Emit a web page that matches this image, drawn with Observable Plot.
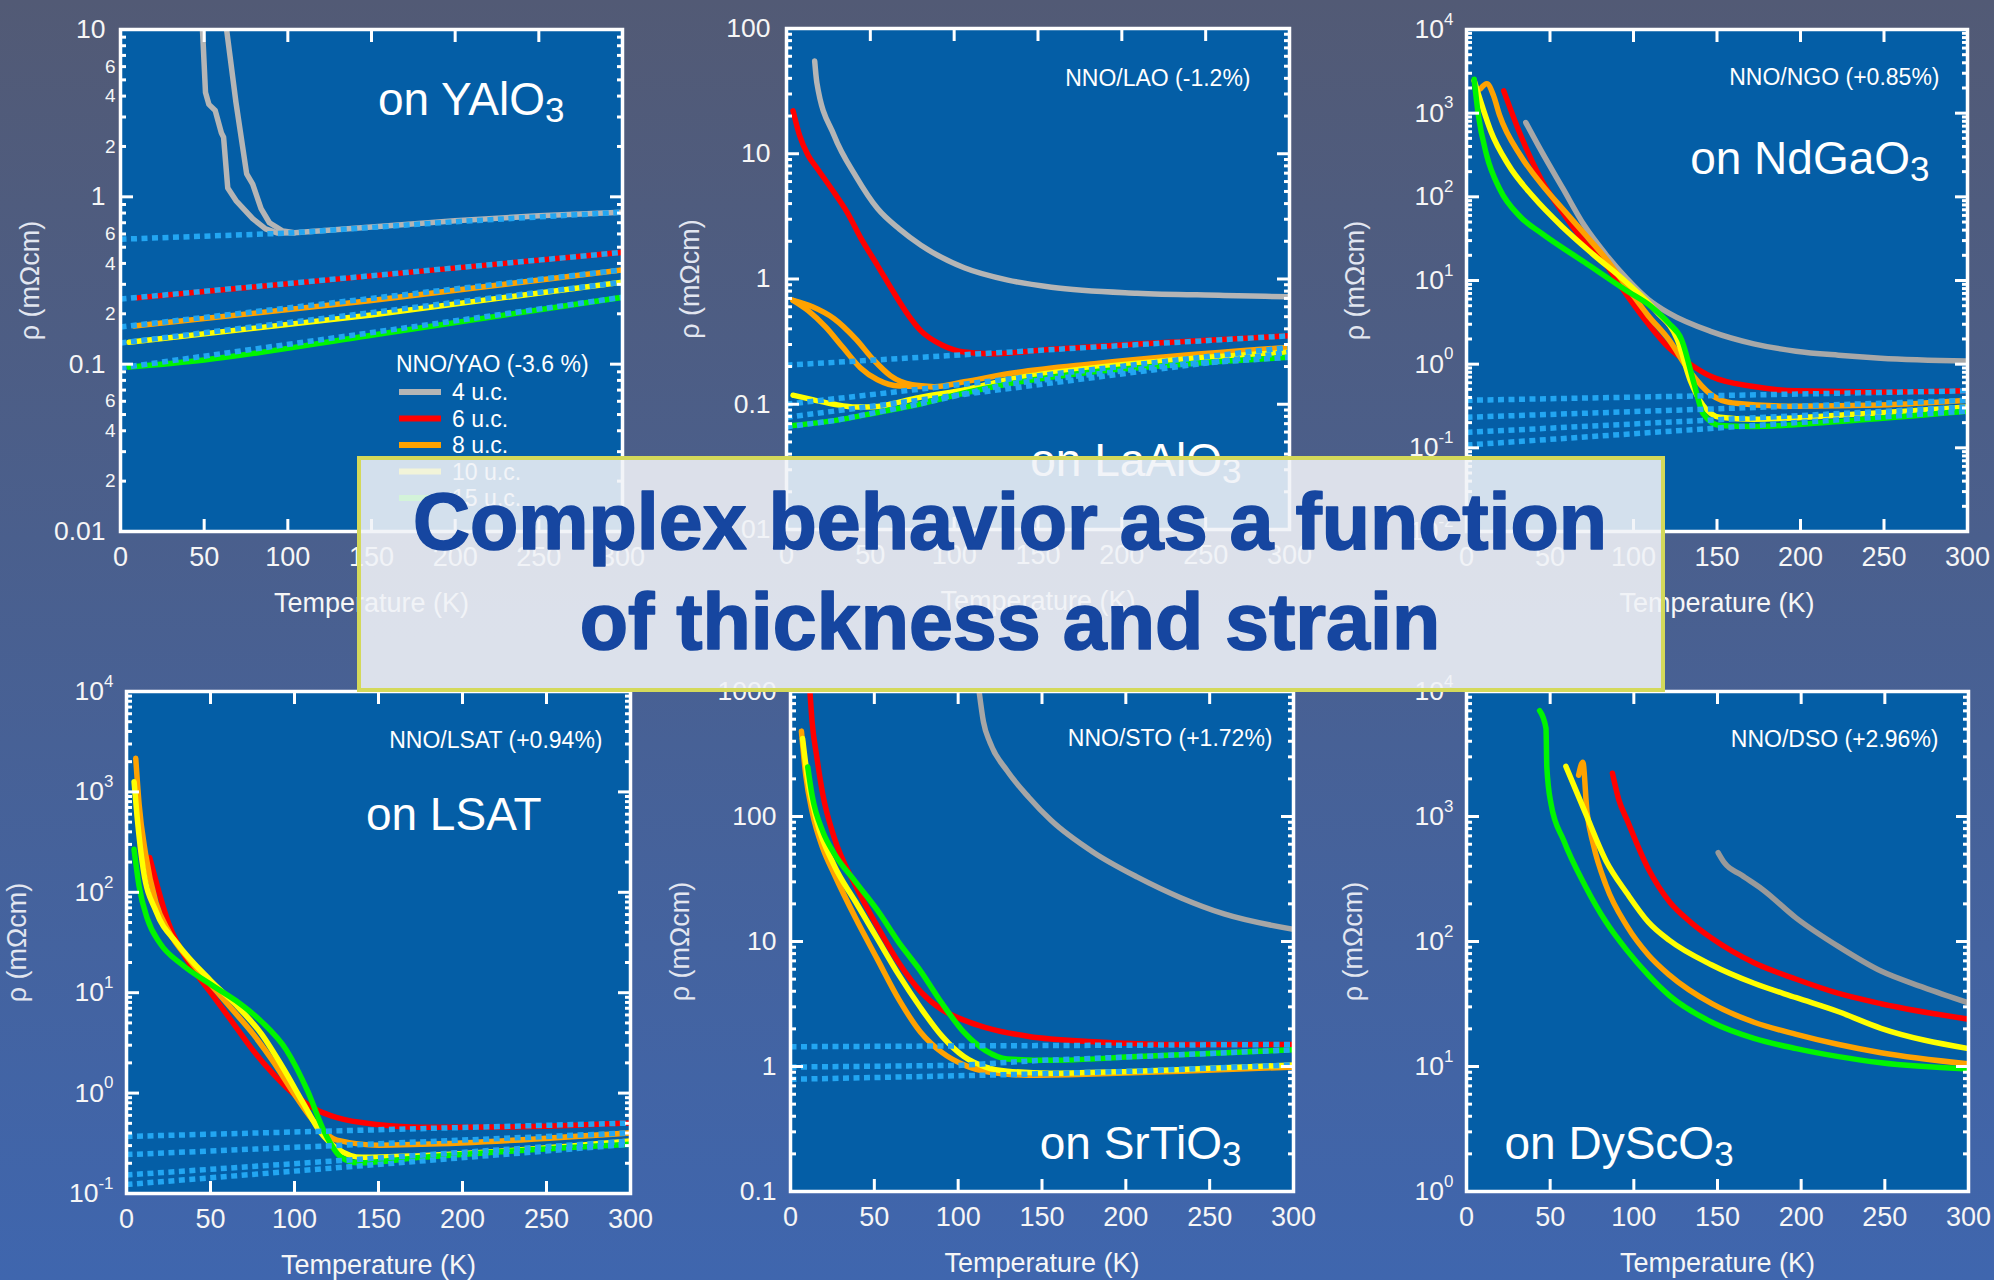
<!DOCTYPE html>
<html>
<head>
<meta charset="utf-8">
<script src="https://cdn.jsdelivr.net/npm/d3@7"></script>
<script src="https://cdn.jsdelivr.net/npm/@observablehq/plot@0.6"></script>
<style>
html, body { margin: 0; padding: 0; }
body {
  width: 1994px; height: 1280px; position: relative; overflow: hidden;
  background: linear-gradient(180deg, #525a75 0%, #3f66ae 100%);
  font-family: "Liberation Sans", Arial, Helvetica, sans-serif;
}
.panel { position: absolute; z-index: 1; }
#box {
  position: absolute; z-index: 2; left: 357px; top: 456px; width: 1308px; height: 236px;
  box-sizing: border-box; border: 4px solid #d4d95a; background: rgba(240, 243, 247, 0.88);
}
#title { position: absolute; z-index: 3; left: 0; top: 0; pointer-events: none; }
</style>
</head>
<body>
<div id="box"></div>
<svg id="title" width="1994" height="1280"></svg>
<script>
// ---------------- DATA ----------------
const thicknessLabels = ["4 u.c.", "6 u.c.", "8 u.c.", "10 u.c.", "15 u.c."];
const tempTicks = [0, 50, 100, 150, 200, 250, 300];
const tempMajorMarks = [50, 100, 150, 200, 250];
const minorMultipliers = [2, 3, 4, 5, 6, 7, 8, 9];
const yaoMinorLabelTicks = [0.02, 0.04, 0.06, 0.2, 0.4, 0.6, 2, 4, 6];
const titleLines = ["Complex behavior as a function", "of thickness and strain"];
const yLabel = "ρ (mΩcm)";
const xLabel = "Temperature (K)";

// Panel 1: on YAlO3  [T (K), rho (mOhm cm)]
const yao_4uc_a = [[49,10],[50.8,4.2],[52.8,3.57],[56.6,3.28],[60.3,2.41],[61.6,2.27],[64.1,1.13],[69,0.95],[79,0.74],[86.7,0.643],[94,0.607],[104,0.61],[150,0.66],[200,0.72],[250,0.77],[300,0.81]];
const yao_4uc_b = [[63.4,10],[69,3.67],[75.4,1.37],[79,1.19],[84,0.85],[89,0.70],[97,0.625],[104,0.61]];
const yao_6uc = [[10,0.249],[150,0.337],[300,0.466]];
const yao_8uc = [[8,0.169],[150,0.24],[300,0.366]];
const yao_10uc = [[5,0.135],[150,0.197],[300,0.309]];
const yao_15uc = [[5,0.096],[50,0.106],[150,0.149],[300,0.251]];
const yao_fit_4 = [[0,0.558],[100,0.607],[200,0.71],[300,0.81]];
const yao_fit_6 = [[0,0.245],[300,0.466]];
const yao_fit_8 = [[0,0.167],[300,0.366]];
const yao_fit_10 = [[0,0.134],[300,0.309]];
const yao_fit_15 = [[0,0.095],[300,0.251]];

// Panel 2: on LaAlO3
const lao_4uc = [[16.8,55],[18.1,37],[28.4,14],[41.4,6.6],[54.3,3.65],[67.2,2.51],[80.2,1.86],[106,1.23],[132,0.98],[158,0.86],[209,0.77],[261,0.74],[300,0.72]];
const lao_6uc = [[3.9,22],[7.8,14],[12.9,9.7],[18.1,7.7],[28.4,4.9],[36.2,3.4],[44,2.16],[54.3,1.28],[64.6,0.755],[72.4,0.52],[80.2,0.385],[93,0.296],[106,0.261],[121.5,0.253],[158,0.275],[209,0.303],[300,0.352]];
const lao_8uc_a = [[3.9,0.676],[15.5,0.60],[28.4,0.482],[41.4,0.331],[51.7,0.228],[62,0.169],[75,0.143],[88,0.138]];
const lao_8uc_b = [[3.9,0.676],[12.9,0.56],[23.3,0.415],[33.6,0.285],[44,0.196],[54.3,0.157],[67.2,0.14],[88,0.138],[106,0.151],[132,0.175],[183.6,0.211],[235,0.245],[300,0.285]];
const lao_10uc = [[3.9,0.118],[15.5,0.109],[28.4,0.100],[41.4,0.095],[54.3,0.096],[67.2,0.104],[80.2,0.114],[106,0.13],[132,0.157],[183.6,0.196],[235,0.228],[300,0.26]];
const lao_15uc = [[3.9,0.0676],[28.4,0.074],[54.3,0.086],[80.2,0.101],[106,0.123],[132,0.145],[183.6,0.182],[235,0.208],[300,0.237]];
const lao_fit_6 = [[0,0.205],[120,0.255],[300,0.352]];
const lao_fit_8 = [[0,0.10],[300,0.285]];
const lao_fit_10 = [[0,0.0787],[300,0.26]];
const lao_fit_15 = [[0,0.066],[28.4,0.074],[80.2,0.101],[132,0.145],[235,0.208],[300,0.237]];

// Panel 3: on NdGaO3
const ngo_4uc = [[35.5,773],[45.1,344],[57.8,125],[70.5,45.6],[83.2,20.8],[95.9,10.6],[108.6,6.0],[121.2,4.07],[146.6,2.45],[172,1.75],[197.3,1.43],[222.7,1.28],[248,1.18],[300,1.09]];
const ngo_6uc = [[22.3,1850],[32.5,540],[45.1,157],[57.8,64],[70.5,29],[83.2,15.7],[95.9,6.75],[108.6,3.08],[121.2,1.57],[134,1.0],[146.6,0.71],[172,0.54],[197.3,0.48],[248,0.466],[300,0.48]];
const ngo_8uc = [[8.4,1960],[12.2,2240],[16,1660],[19.8,946],[32.5,308],[45.1,140],[57.8,71],[70.5,36.4],[83.2,18.5],[95.9,8.45],[108.6,3.85],[121.2,1.96],[134,0.80],[146.6,0.43],[159.3,0.344],[197.3,0.315],[248,0.325],[300,0.37]];
const ngo_10uc = [[4.6,2450],[9.6,1180],[14.7,600],[24.9,245],[40,100],[57.8,43],[75.6,20.7],[95.9,9.46],[113.6,4.3],[126.3,1.96],[134,0.64],[141.5,0.325],[151.7,0.232],[172,0.22],[222.7,0.245],[300,0.307]];
const ngo_15uc = [[4.6,2540],[7.1,946],[12.2,308],[19.8,125],[32.5,57],[45.1,36.4],[70.5,16.6],[95.9,7.55],[111,4.82],[121.2,3.08],[128.8,1.96],[136.4,0.57],[141.5,0.26],[151.7,0.185],[172,0.18],[222.7,0.207],[300,0.275]];
const ngo_fit_6 = [[0,0.37],[300,0.48]];
const ngo_fit_8 = [[0,0.232],[300,0.37]];
const ngo_fit_10 = [[0,0.153],[300,0.307]];
const ngo_fit_15 = [[0,0.108],[300,0.275]];

// Panel 4: on LSAT
const lsat_6uc = [[13.8,222],[25.1,49],[37.6,19.3],[50.1,10],[62.7,5.18],[75.2,2.68],[87.7,1.53],[100.3,0.955],[112.8,0.687],[125.3,0.569],[150.4,0.485],[175.4,0.458],[225.6,0.46],[300,0.503]];
const lsat_8uc = [[5.5,2160],[7.5,755],[11.3,244],[17.5,79],[25.1,41],[37.6,21],[50.1,12.1],[62.7,6.87],[75.2,3.91],[87.7,2.02],[100.3,0.955],[112.8,0.494],[125.3,0.34],[150.4,0.303],[175.4,0.309],[300,0.402]];
const lsat_10uc = [[4.5,1265],[6.3,569],[10,168],[17.5,65],[30.1,31],[50.1,13.2],[65.2,7.55],[80.2,3.91],[92.7,1.84],[105.3,0.79],[115.3,0.41],[125.3,0.281],[140.4,0.229],[175.4,0.238],[300,0.333]];
const lsat_15uc = [[4.5,268],[7.5,115],[12.5,54],[20,31],[32.6,19.3],[50.1,12.1],[65.2,8.3],[80.2,5.18],[95.2,2.68],[107.8,1.05],[117.8,0.41],[127.8,0.229],[137.8,0.202],[175.4,0.229],[300,0.309]];
const lsat_fit_6 = [[0,0.37],[300,0.503]];
const lsat_fit_8 = [[0,0.244],[300,0.402]];
const lsat_fit_10 = [[0,0.153],[300,0.333]];
const lsat_fit_15 = [[0,0.123],[300,0.309]];

// Panel 5: on SrTiO3
const sto_4uc = [[112.5,1000],[115.1,569],[119,391],[129.3,231],[142.2,142],[155.2,93.6],[181,51.3],[206.9,32.7],[232.7,22.4],[258.6,16.6],[300,12.5]];
const sto_6uc = [[11.6,1000],[12.9,569],[15.5,312],[19.4,147],[25.9,69],[38.8,28],[51.7,13.3],[64.7,6.74],[77.6,3.98],[90.5,2.84],[103.4,2.35],[116.4,2.05],[142.2,1.74],[181,1.58],[232.7,1.5],[300,1.5]];
const sto_8uc = [[6.5,482],[9.1,214],[12.9,109],[19.4,55],[25.9,35],[38.8,15.4],[51.7,7.26],[64.7,3.43],[77.6,1.88],[90.5,1.29],[103.4,1.03],[119,0.90],[142.2,0.853],[181,0.871],[232.7,0.918],[300,0.99]];
const sto_10uc = [[7.2,421],[10.3,199],[15.5,93.6],[25.9,41],[38.8,20.8],[51.7,10.6],[64.7,5.38],[77.6,2.95],[90.5,1.74],[103.4,1.2],[116.4,0.99],[129.3,0.918],[155.2,0.885],[206.9,0.918],[300,1.03]];
const sto_15uc = [[10.3,249],[12.9,147],[19.4,75],[25.9,51],[38.8,30],[51.7,17.9],[64.7,9.8],[77.6,5.8],[90.5,3.18],[103.4,1.88],[116.4,1.34],[129.3,1.15],[155.2,1.12],[206.9,1.2],[300,1.36]];
const sto_fit_6 = [[0,1.44],[150,1.47],[300,1.5]];
const sto_fit_15 = [[0,0.99],[100,1.02],[150,1.12],[206.9,1.2],[300,1.36]];
const sto_fit_10 = [[0,0.79],[130,0.86],[206.9,0.92],[300,1.03]];

// Panel 6: on DyScO3
const dso_4uc = [[150.4,513],[154.2,425],[164.3,340],[176.9,261],[197.1,154],[222.4,91],[247.7,58],[273,43],[300,32.3]];
const dso_6uc = [[87.2,2220],[91,1365],[96,935],[108.7,380],[121.3,208],[133.9,143],[146.6,106],[171.8,67.5],[197.1,49.9],[222.4,38.4],[247.7,31.8],[300,23.9]];
const dso_8uc = [[67,2140],[69.5,2720],[72,1090],[75.8,597],[83.4,281],[96,132],[108.7,78],[121.3,53.8],[146.6,31.8],[171.8,22.6],[197.1,18.1],[222.4,15],[247.7,12.9],[300,10.5]];
const dso_10uc = [[59.4,2520],[70.8,1090],[83.4,441],[96,242],[108.7,143],[121.3,102],[146.6,64.9],[171.8,46.3],[197.1,35.5],[222.4,27.4],[247.7,20.2],[300,13.9]];
const dso_15uc = [[43.7,7030],[47.5,5080],[48,2490],[50.5,1265],[58.1,643],[70.8,281],[83.4,143],[96,84.5],[108.7,53.8],[121.3,36.9],[146.6,22.6],[171.8,16.8],[197.1,13.9],[222.4,12],[247.7,10.7],[300,9.55]];

// Text per panel
const strainLabels = ["NNO/YAO (-3.6 %)", "NNO/LAO (-1.2%)", "NNO/NGO (+0.85%)", "NNO/LSAT (+0.94%)", "NNO/STO (+1.72%)", "NNO/DSO (+2.96%)"];
const substrateLabels = ["on YAlO_3", "on LaAlO_3", "on NdGaO_3", "on LSAT", "on SrTiO_3", "on DyScO_3"];

// ---------------- STYLE ----------------
const FONT = '"Liberation Sans", Arial, Helvetica, sans-serif';
const COL = {g4: "#b5b5b5", r6: "#ff0000", o8: "#ffa200", y10: "#ffff00", g15: "#00f500", dot: "#22a6f2"};
const legendColors = [COL.g4, COL.r6, COL.o8, COL.y10, COL.g15];

function decadeTicks(lo, hi) {
  const out = [];
  for (let e = Math.round(Math.log10(lo)); e <= Math.round(Math.log10(hi)); e++) out.push(+(10 ** e).toPrecision(6));
  return out;
}
function minorTicks(lo, hi) {
  const out = [];
  for (const d of decadeTicks(lo, hi).slice(0, -1)) for (const k of minorMultipliers) out.push(+(d * k).toPrecision(6));
  return out;
}
const fmtPlain = d => String(d);
const fmtPow = d => "10^" + Math.round(Math.log10(d));
const fmtDigit = d => String(Math.round(d / 10 ** Math.floor(Math.log10(d) + 1e-9)));

function richify(svg) {
  d3.select(svg).selectAll("text").each(function () {
    if (this.querySelector("tspan")) return;
    const t = this.textContent;
    const m = t.match(/^(.*?)([\^_])(.+)$/);
    if (!m) return;
    this.textContent = "";
    const s = d3.select(this);
    s.append("tspan").text(m[1]);
    const sup = m[2] === "^";
    s.append("tspan")
      .attr("font-size", sup ? "0.64em" : "0.76em")
      .attr("dy", sup ? "-0.78em" : "0.18em")
      .text(m[3]);
  });
}

const mL = 120, mR = 30, mT = 25, mB = 100;

function makePanel(cfg) {
  const majors = decadeTicks(cfg.y[0], cfg.y[1]);
  const minors = minorTicks(cfg.y[0], cfg.y[1]);
  const marks = [Plot.frame({fill: "#045ea6"})];
  for (const s of cfg.series) {
    marks.push(Plot.line(s.data, {x: d => d[0], y: d => d[1], stroke: s.color, strokeWidth: 5.5,
      curve: s.curve || "monotone-x", strokeLinejoin: "round", clip: true}));
  }
  for (const f of cfg.fits || []) {
    marks.push(Plot.line(f, {x: d => d[0], y: d => d[1], stroke: COL.dot, strokeWidth: 5.5,
      strokeDasharray: "6,4.5", strokeLinecap: "butt", clip: true}));
  }
  const tk = {stroke: "white", strokeWidth: 3, tickFormat: () => "", label: null};
  marks.push(
    Plot.axisX(tempMajorMarks, {anchor: "bottom", tickSize: -12, ...tk}),
    Plot.axisX(tempMajorMarks, {anchor: "top", tickSize: -12, ...tk}),
    Plot.axisY(majors, {anchor: "left", tickSize: -13, ...tk}),
    Plot.axisY(majors, {anchor: "right", tickSize: -13, ...tk}),
    Plot.axisY(minors, {anchor: "left", tickSize: -6, ...tk}),
    Plot.axisY(minors, {anchor: "right", tickSize: -6, ...tk}),
    Plot.frame({stroke: "white", strokeWidth: 3.5}),
    Plot.axisX(tempTicks, {anchor: "bottom", tickSize: 0, tickPadding: 15, fontSize: 27, fill: "#f6f6f6", label: null}),
    Plot.axisY(majors, {anchor: "left", tickSize: 0, tickPadding: cfg.pad, fontSize: 26.5, fill: "#f6f6f6",
      tickFormat: cfg.fmt, label: null}),
    Plot.text([yLabel], {text: d => d, frameAnchor: "left", dx: -cfg.ylabDx, rotate: -90, fontSize: 27,
      textAnchor: "middle", lineAnchor: "middle", fill: "#e2e6f0"}),
    Plot.text([xLabel], {text: d => d, frameAnchor: "bottom", dy: 72, fontSize: 27,
      textAnchor: "middle", lineAnchor: "middle", fill: "#f6f6f6"}),
    Plot.text([cfg.sub], {text: d => d, frameAnchor: cfg.subAnchor, dx: cfg.subDx, dy: cfg.subDy,
      textAnchor: cfg.subTextAnchor || "end", lineAnchor: "middle", fontSize: 46, fill: "white"})
  );
  if (cfg.minorLabels) {
    marks.push(Plot.text(cfg.minorLabels, {y: d => d, text: fmtDigit, frameAnchor: "left", dx: -5,
      textAnchor: "end", lineAnchor: "middle", fontSize: 19, fill: "#f6f6f6"}));
  }
  if (cfg.strain) {
    marks.push(Plot.text([cfg.strain], {text: d => d, frameAnchor: "top-right", dx: cfg.strainDx, dy: cfg.strainDy,
      textAnchor: "end", lineAnchor: "middle", fontSize: 23, fill: "white"}));
  }
  const svg = Plot.plot({
    width: mL + cfg.w + mR, height: mT + cfg.h + mB,
    marginLeft: mL, marginRight: mR, marginTop: mT, marginBottom: mB,
    style: {background: "transparent", color: "white", fontFamily: FONT, overflow: "visible"},
    x: {domain: [0, 300]},
    y: {type: "log", domain: cfg.y},
    marks
  });
  richify(svg);
  svg.classList.add("panel");
  svg.style.left = (cfg.left - mL) + "px";
  svg.style.top = (cfg.top - mT) + "px";
  svg.style.maxWidth = "none";
  return svg;
}

const panels = [
  {left: 120, top: 29, w: 502, h: 502, y: [0.01, 10], fmt: fmtPlain, pad: 15, ylabDx: 90,
   minorLabels: yaoMinorLabelTicks,
   sub: substrateLabels[0], subAnchor: "top-right", subDx: -58, subDy: 71,
   series: [
     {data: yao_4uc_a, color: COL.g4, curve: "linear"}, {data: yao_4uc_b, color: COL.g4, curve: "linear"},
     {data: yao_6uc, color: COL.r6}, {data: yao_8uc, color: COL.o8},
     {data: yao_10uc, color: COL.y10}, {data: yao_15uc, color: COL.g15}],
   fits: [yao_fit_4, yao_fit_6, yao_fit_8, yao_fit_10, yao_fit_15], legend: true},
  {left: 786, top: 28, w: 503, h: 501, y: [0.01, 100], fmt: fmtPlain, pad: 16, ylabDx: 96,
   strain: strainLabels[1], strainDx: -39, strainDy: 50,
   sub: substrateLabels[1], subAnchor: "bottom-right", subDx: -48, subDy: -68,
   series: [
     {data: lao_4uc, color: COL.g4}, {data: lao_6uc, color: COL.r6},
     {data: lao_8uc_a, color: COL.o8}, {data: lao_8uc_b, color: COL.o8},
     {data: lao_10uc, color: COL.y10}, {data: lao_15uc, color: COL.g15}],
   fits: [lao_fit_6, lao_fit_8, lao_fit_10, lao_fit_15]},
  {left: 1466, top: 29, w: 501, h: 502, y: [0.01, 10000], fmt: fmtPow, pad: 13, ylabDx: 111,
   strain: strainLabels[2], strainDx: -28, strainDy: 48,
   sub: substrateLabels[2], subAnchor: "top-right", subDx: -38, subDy: 130,
   series: [
     {data: ngo_4uc, color: "#a8a8a8"}, {data: ngo_6uc, color: COL.r6}, {data: ngo_8uc, color: COL.o8},
     {data: ngo_10uc, color: COL.y10}, {data: ngo_15uc, color: COL.g15}],
   fits: [ngo_fit_6, ngo_fit_8, ngo_fit_10, ngo_fit_15]},
  {left: 126, top: 691, w: 504, h: 502, y: [0.1, 10000], fmt: fmtPow, pad: 13, ylabDx: 109,
   strain: strainLabels[3], strainDx: -28, strainDy: 49,
   sub: substrateLabels[3], subAnchor: "top-right", subDx: -89, subDy: 124,
   series: [
     {data: lsat_6uc, color: COL.r6}, {data: lsat_8uc, color: COL.o8},
     {data: lsat_10uc, color: COL.y10}, {data: lsat_15uc, color: COL.g15}],
   fits: [lsat_fit_6, lsat_fit_8, lsat_fit_10, lsat_fit_15]},
  {left: 790, top: 691, w: 503, h: 500, y: [0.1, 1000], fmt: fmtPlain, pad: 14, ylabDx: 110,
   strain: strainLabels[4], strainDx: -21, strainDy: 47,
   sub: substrateLabels[4], subAnchor: "bottom-right", subDx: -52, subDy: -47,
   series: [
     {data: sto_4uc, color: "#a6a6a6"}, {data: sto_6uc, color: COL.r6}, {data: sto_8uc, color: COL.o8},
     {data: sto_10uc, color: COL.y10}, {data: sto_15uc, color: COL.g15}],
   fits: [sto_fit_6, sto_fit_15, sto_fit_10]},
  {left: 1466, top: 691, w: 502, h: 500, y: [1, 10000], fmt: fmtPow, pad: 13, ylabDx: 113,
   strain: strainLabels[5], strainDx: -30, strainDy: 48,
   sub: substrateLabels[5], subAnchor: "bottom-left", subDx: 38, subDy: -47, subTextAnchor: "start",
   series: [
     {data: dso_4uc, color: "#9a9a9a"}, {data: dso_6uc, color: COL.r6}, {data: dso_8uc, color: COL.o8},
     {data: dso_10uc, color: COL.y10}, {data: dso_15uc, color: COL.g15}],
   fits: []}
];

const box = document.getElementById("box");
for (const cfg of panels) {
  const svg = makePanel(cfg);
  if (cfg.legend) {
    const g = d3.select(svg).append("g").attr("font-family", FONT).attr("fill", "white")
      .attr("text-anchor", "start");
    const x0 = mL, y0 = mT;
    g.append("text").attr("x", x0 + 276).attr("y", y0 + 335).attr("dy", "0.35em")
      .attr("font-size", 23).text(strainLabels[0]);
    thicknessLabels.forEach((lab, i) => {
      const yy = y0 + 363 + 26.5 * i;
      g.append("line").attr("x1", x0 + 279).attr("x2", x0 + 321).attr("y1", yy).attr("y2", yy)
        .attr("stroke", legendColors[i]).attr("stroke-width", 6);
      g.append("text").attr("x", x0 + 332).attr("y", yy).attr("dy", "0.35em")
        .attr("font-size", 23).text(lab);
    });
  }
  document.body.insertBefore(svg, box);
}

// Title overlay
const tsvg = d3.select("#title");
titleLines.forEach((line, i) => {
  tsvg.append("text").attr("x", 1010).attr("y", 549 + 100 * i).attr("text-anchor", "middle")
    .attr("font-family", FONT).attr("font-weight", "bold").attr("font-size", 79)
    .attr("fill", "#1646a0").attr("stroke", "#1646a0").attr("stroke-width", 1.6)
    .attr("stroke-linejoin", "round").text(line);
});
</script>
</body>
</html>
